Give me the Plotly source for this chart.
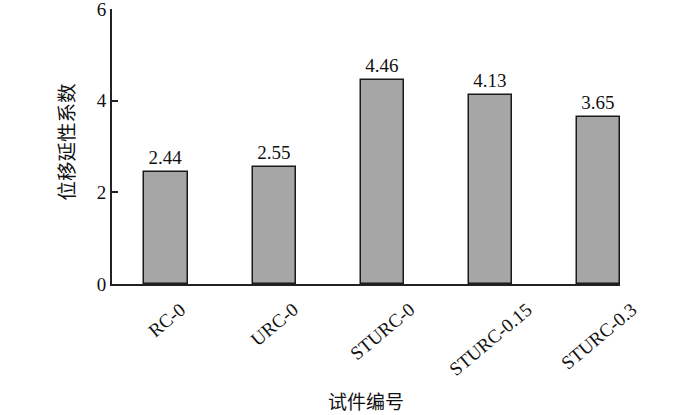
import plotly.graph_objects as go

categories = ["RC-0", "URC-0", "STURC-0", "STURC-0.15", "STURC-0.3"]
values = [2.44, 2.55, 4.46, 4.13, 3.65]
value_labels = ["2.44", "2.55", "4.46", "4.13", "3.65"]
y_ticks = [0, 2, 4, 6]

serif = "Liberation Serif"
cjk = "Noto Sans CJK SC"

xs = list(range(len(categories)))

fig = go.Figure(go.Bar(
    x=xs, y=values, width=0.4,
    marker=dict(color="#a6a6a6", line=dict(color="#1a1a1a", width=1.5)),
    text=value_labels, textposition="outside", cliponaxis=False,
    textfont=dict(family=serif, size=19, color="#111"),
))

fig.update_layout(
    width=700, height=415,
    margin=dict(l=112, r=80, t=9, b=131, autoexpand=False),
    paper_bgcolor="white", plot_bgcolor="white",
    showlegend=False,
    bargap=0,
)
fig.update_xaxes(
    range=[-0.5, 4.2], tickvals=xs, showticklabels=False, ticks="", automargin=False,
    showline=True, linecolor="#222", linewidth=2, showgrid=False, zeroline=False,
)
fig.update_yaxes(
    range=[0, 6.001], tickvals=y_ticks, ticks="inside", ticklen=6, tickwidth=1.5, tickcolor="#222",
    showline=True, linecolor="#222", linewidth=2, showgrid=False, zeroline=False, automargin=False,
    ticklabeloverflow="allow",
    tickfont=dict(family=serif, size=19, color="#111"),
)
for xi, cat in zip(xs, categories):
    fig.add_annotation(text=cat, x=xi, xref="x", y=0, yref="paper",
                       xanchor="center", yanchor="top", yshift=-12,
                       textangle=-40, showarrow=False,
                       font=dict(family=serif, size=19, color="#111"))
fig.add_annotation(text="试件编号", xref="paper", yref="paper", x=0.5, y=0,
                   xanchor="center", yanchor="middle",
                   yshift=-116, showarrow=False, font=dict(family=cjk, size=19, color="#111"))
fig.add_annotation(text="位移延性系数", xref="paper", yref="paper", x=0, y=0.5,
                   xanchor="center", yanchor="middle",
                   xshift=-47, yshift=4, textangle=-90, showarrow=False,
                   font=dict(family=cjk, size=19.5, color="#111"))

fig.write_html("out.html", config={"displayModeBar": False},
               post_script="document.body.style.margin='0';document.body.style.overflow='hidden';")
